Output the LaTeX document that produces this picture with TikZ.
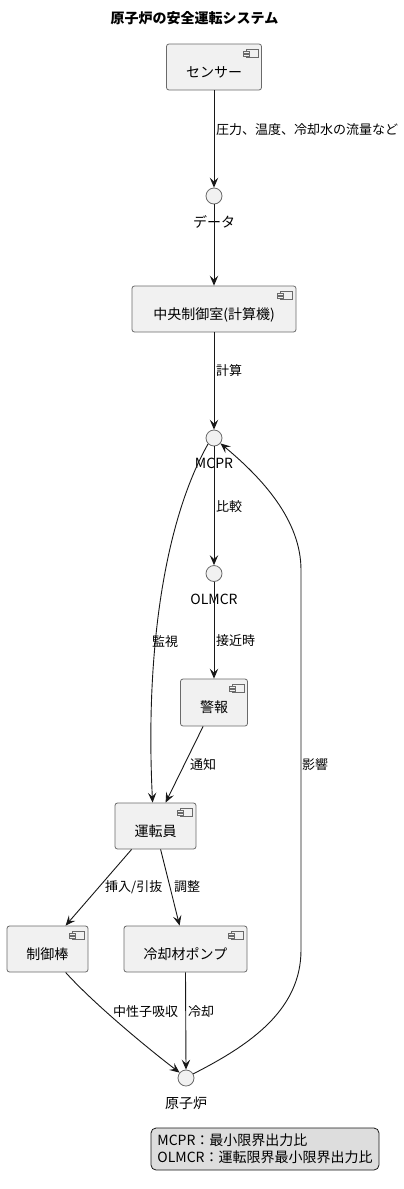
\documentclass[tikz,border=0pt]{standalone}
\usepackage{fontspec}
\setmainfont{Noto Sans CJK JP}
\usetikzlibrary{arrows.meta}
\definecolor{boxfill}{HTML}{F1F1F1}
\definecolor{boxline}{HTML}{6A6A6A}
\definecolor{legfill}{HTML}{DDDDDD}
\definecolor{edgecol}{HTML}{181818}
\tikzset{
  comp/.style={draw=boxline, fill=boxfill, rounded corners=2.5pt, line width=0.8pt,
    font=\fontsize{14}{16}\selectfont, text height=22pt, text depth=2pt, inner sep=0pt},
  iface/.style={circle, draw=boxline, fill=boxfill, line width=0.8pt, minimum size=16pt, inner sep=0pt},
  flow/.style={draw=edgecol, line width=0.9pt, -{Stealth[length=10pt,width=8.5pt,inset=4pt]}},
  elabel/.style={font=\fontsize{13}{15}\selectfont, inner sep=0pt, anchor=west},
  clabel/.style={font=\fontsize{14}{16}\selectfont, inner sep=0pt},
  iconline/.style={draw=boxline, fill=boxfill, line width=0.6pt},
}
\newcommand\compicon[1]{%
  \draw[iconline] ([xshift=-16pt,yshift=-6pt]#1.north east) rectangle ([xshift=-4pt,yshift=-14pt]#1.north east);
  \draw[iconline] ([xshift=-19pt,yshift=-7.5pt]#1.north east) rectangle ([xshift=-13pt,yshift=-9.5pt]#1.north east);
  \draw[iconline] ([xshift=-19pt,yshift=-10.5pt]#1.north east) rectangle ([xshift=-13pt,yshift=-12.5pt]#1.north east);
}
\begin{document}
\begin{tikzpicture}[x=1pt,y=-1pt]
\fill[white] (0,0) rectangle (404,1189);
\useasboundingbox (0,0) rectangle (404,1189);

\node[font=\bfseries\fontsize{14}{16}\selectfont, inner sep=0pt] (title) at (194.5,18) {原子炉の安全運転システム};

% components
\node[comp, minimum width=95pt, minimum height=46pt] (sensor) at (214,67) {センサー};
\node[comp, minimum width=164pt, minimum height=46pt] (ccr) at (214,309) {中央制御室(計算機)};
\node[comp, minimum width=67pt, minimum height=47pt] (alarm) at (214,702.5) {警報};
\node[comp, minimum width=81pt, minimum height=46pt] (op) at (155.5,826) {運転員};
\node[comp, minimum width=81pt, minimum height=46pt] (rod) at (47.5,949) {制御棒};
\node[comp, minimum width=123pt, minimum height=46pt] (pump) at (185.5,949) {冷却材ポンプ};
\compicon{sensor}
\compicon{ccr}
\compicon{alarm}
\compicon{op}
\compicon{rod}
\compicon{pump}

% interfaces
\node[iface] (data) at (214,196) {};
\node[clabel] (datal) at (214,222) {データ};
\node[iface] (mcpr) at (214,438) {};
\node[clabel] (mcprl) at (214,463) {MCPR};
\node[iface] (olmcr) at (214,573.5) {};
\node[clabel] (olmcrl) at (214,599) {OLMCR};
\node[iface] (reactor) at (186,1078) {};
\node[clabel] (reactorl) at (186,1103) {原子炉};

% connectors
\draw[flow] (sensor.south) -- (data.north);
\draw[flow] (data.south) -- (ccr.north);
\draw[flow] (ccr.south) -- (mcpr.north);
\draw[flow] (mcpr.south) -- (olmcr.north);
\draw[flow] (olmcr.south) -- (alarm.north);
\draw[flow] ([xshift=23pt]alarm.south west) -- ([xshift=51pt]op.north west);
\draw[flow] (mcpr.-135) .. controls (165,520) and (145,650) .. ([xshift=38pt]op.north west);
\draw[flow] ([xshift=17pt]op.south west) -- ([xshift=59pt]rod.north west);
\draw[flow] ([xshift=46pt]op.south west) -- ([xshift=56pt]pump.north west);
\draw[flow] ([xshift=59pt]rod.south west) .. controls (95,1005) and (150,1050) .. (reactor.140);
\draw[flow] (pump.south) -- (reactor.north);
\draw[flow] (reactor.30) .. controls (250,1045) and (301,1010) .. (301,950)
   -- (301,570) .. controls (301,520) and (262,478) .. (mcpr.-40);

% edge labels
\node[elabel] (l1) at (216,130) {圧力、温度、冷却水の流量など};
\node[elabel] (l2) at (216,371) {計算};
\node[elabel] (l3) at (216,507) {比較};
\node[elabel] (l4) at (216,641) {接近時};
\node[elabel] (l5) at (152,642) {監視};
\node[elabel] (l6) at (190,765) {通知};
\node[elabel] (l7) at (302,765) {影響};
\node[elabel] (l8) at (105,887) {挿入/引抜};
\node[elabel] (l9) at (174,887) {調整};
\node[elabel] (l10) at (113,1012) {中性子吸収};
\node[elabel] (l11) at (188,1012) {冷却};

% legend
\node[draw=edgecol, fill=legfill, rounded corners=5pt, line width=0.8pt, align=left,
  font=\fontsize{14}{17}\selectfont, minimum width=228pt, minimum height=42pt, inner xsep=5pt, inner ysep=3pt]
  (legend) at (265,1149) {MCPR：最小限界出力比\\OLMCR：運転限界最小限界出力比};
\end{tikzpicture}
\end{document}
